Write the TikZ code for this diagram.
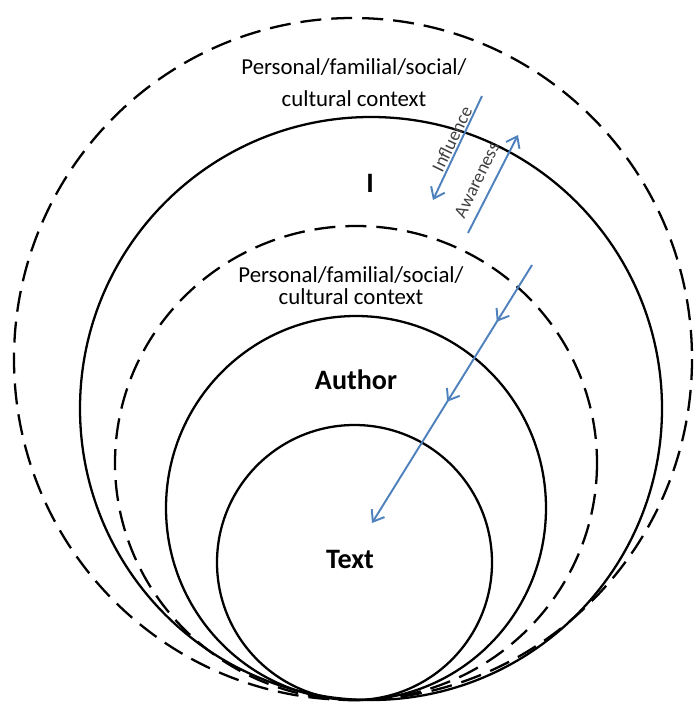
\documentclass[tikz,border=0pt]{standalone}
\usepackage{fontspec}
\setmainfont{Carlito}
\usetikzlibrary{arrows.meta,decorations.markings,positioning}
\definecolor{flowblue}{RGB}{79,129,189}
\tikzstyle{every node}+=[inner sep=0pt]
\tikzstyle{ring}=[line width=1.3pt]
\tikzstyle{ctxring}=[ring,dash pattern=on 0.42cm off 0.2cm]
\tikzstyle{flow}=[draw=flowblue,line width=1.1pt]
\tikzstyle{barbtip}=[-{Straight Barb[length=2mm,width=3mm]}]
\tikzstyle{ctx}=[align=center,font=\fontsize{13}{18.2}\selectfont]
\tikzstyle{tag}=[anchor=base,font=\bfseries\fontsize{16}{19}\selectfont]
\tikzstyle{slope}=[font=\fontsize{10.5}{12}\selectfont,text=black!75,rotate=64]
\newcommand{\drawrings}[2][\empty]{
	\foreach \cx/\cy/\rx/\ry in {#2}{
		\draw[#1] (\cx,\cy) ellipse [x radius=\rx, y radius=\ry];
	}
}

\begin{document}
\begin{tikzpicture}[x=0.02cm,y=-0.02cm]
\useasboundingbox (0,0) rectangle (694,703);

\drawrings[ctxring]{353/359/339/341, 356/463/241/237}
\drawrings[ring]{371/408.5/291/291.5, 356/508/190/192, 354.5/562.5/137.5/137.5}

\node[ctx] (ctxout) at (354, 83) {Personal/familial/social/\\cultural context};
\node[ctx,font=\fontsize{13}{12.5}\selectfont] (ctxin) at (351, 285.5) {Personal/familial/social/\\cultural context};

\node[tag] (me) at (370, 192) {I};
\node[tag] (author) at (356, 389) {Author};
\node[tag] (text) at (350, 568) {Text};

\coordinate (inflA) at (482, 96);
\coordinate (inflB) at (433, 200);
\coordinate (awarA) at (468, 233);
\coordinate (awarB) at (518, 135);
\coordinate (passA) at (532, 265);
\coordinate (passB) at (372, 523);

\draw[flow,barbtip] (inflA) -- (inflB);
\draw[flow,barbtip] (awarA) -- (awarB);
\draw[flow,barbtip,postaction=decorate,decoration={markings,
	mark=at position 0.22 with {\arrow[flowblue]{Straight Barb[length=2mm,width=3mm]}},
	mark=at position 0.53 with {\arrow[flowblue]{Straight Barb[length=2mm,width=3mm]}}}] (passA) -- (passB);

\node[slope] (infl) at (452, 139) {Influence};
\node[slope] (aware) at (477, 180) {Awareness};

\end{tikzpicture}
\end{document}
